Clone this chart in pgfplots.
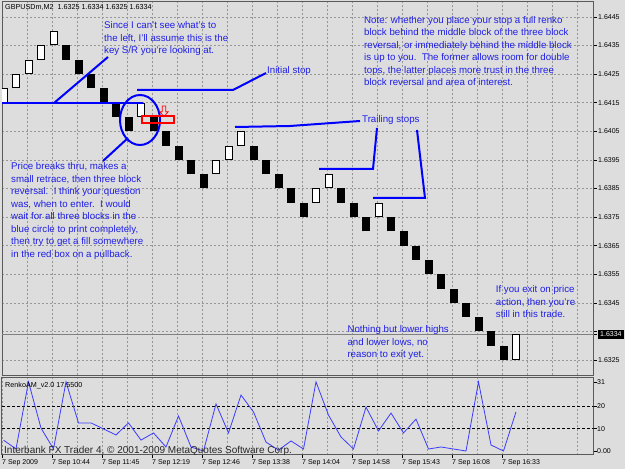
\documentclass[border=0pt]{standalone}
\usepackage{pgfplots}
\pgfplotsset{compat=1.18}
\usepackage{pgfplotstable}
\usepackage{fontspec}
\setmainfont{Liberation Sans}
\definecolor{bgc}{RGB}{221,221,221}
\definecolor{gridc}{RGB}{150,150,150}
\definecolor{framec}{RGB}{90,90,90}
\definecolor{annoblue}{RGB}{30,30,230}
\definecolor{lineblue}{RGB}{0,0,255}
\definecolor{indblue}{RGB}{60,60,255}

% black (down) renko blocks
\pgfplotstableread{
x lo hi
5 1.6430 1.6435
6 1.6425 1.6430
7 1.6420 1.6425
8 1.6415 1.6420
9 1.6410 1.6415
10 1.6405 1.6410
12 1.6405 1.6410
13 1.6400 1.6405
14 1.6395 1.6400
15 1.6390 1.6395
16 1.6385 1.6390
20 1.6395 1.6400
21 1.6390 1.6395
22 1.6385 1.6390
23 1.6380 1.6385
24 1.6375 1.6380
27 1.6380 1.6385
28 1.6375 1.6380
29 1.6370 1.6375
31 1.6370 1.6375
32 1.6365 1.6370
33 1.6360 1.6365
34 1.6355 1.6360
35 1.6350 1.6355
36 1.6345 1.6350
37 1.6340 1.6345
38 1.6335 1.6340
39 1.6330 1.6335
40 1.6325 1.6330
}\blackbars
% white (up) renko blocks
\pgfplotstableread{
x lo hi
0 1.6415 1.6420
1 1.6420 1.6425
2 1.6425 1.6430
3 1.6430 1.6435
4 1.6435 1.6440
11 1.6410 1.6415
17 1.6390 1.6395
18 1.6395 1.6400
19 1.6400 1.6405
25 1.6380 1.6385
26 1.6385 1.6390
30 1.6375 1.6380
41 1.6325 1.6334
}\whitebars
% RenkoAM indicator
\pgfplotstableread{
x v
0 4.9
1 0.9
2 31
3 10.3
4 0.9
5 31
6 12.6
7 12.6
8 9.9
9 7.2
10 12.6
11 4.9
12 8.1
13 1.8
14 15.7
15 1.8
16 0
17 21.1
18 8.1
19 25.1
20 17.5
21 4.0
22 0.4
23 4.5
24 0.9
25 31
26 16.1
27 6.3
28 0.9
29 19.7
30 9.0
31 17.0
32 8.1
33 14.3
34 0.9
35 1.8
36 0.9
37 0
38 31
39 2.7
40 0
41 17.55
}\renko

\begin{document}
\begin{tikzpicture}
\useasboundingbox (0,0) rectangle (625pt,469pt);
\fill[bgc] (0,0) rectangle (625pt,469pt);

\begin{axis}[
  at={(2pt,93.5pt)}, anchor=south west,
  scale only axis, width=591.5pt, height=373.5pt,
  xmin=-0.12, xmax=47.2, ymin=1.63196, ymax=1.64502,
  axis line style={draw=framec, line width=1pt},
  xtick={-0.12,1.88,...,46.5},
  xticklabels={},
  xmajorgrids, ymajorgrids,
  major grid style={draw=gridc, line width=0.5pt, dash pattern=on 2pt off 2pt},
  ytick={1.6325,1.6335,1.6345,1.6355,1.6365,1.6375,1.6385,1.6395,1.6405,1.6415,1.6425,1.6435,1.6445},
  yticklabels={1.6325,{},1.6345,1.6355,1.6365,1.6375,1.6385,1.6395,1.6405,1.6415,1.6425,1.6435,1.6445},
  ytick pos=right, yticklabel pos=right,
  tick align=outside,
  xtick style={draw=none},
  ytick style={draw=black, line width=0.5pt},
  major tick length=3pt,
  yticklabel style={font=\fontsize{7}{8}\selectfont, anchor=west, inner sep=0pt, xshift=1.5pt},
  scaled y ticks=false,
  extra y ticks={1.6334},
  extra y tick labels={1.6334},
  extra y tick style={grid=major, major grid style={draw=gray, solid, line width=0.6pt},
     yticklabel style={fill=black, text=white, inner xsep=2pt, inner ysep=2pt}},
]
\addplot[draw=none, mark=none, forget plot, error bars/.cd, y dir=plus, y explicit, error mark=none,
   error bar style={draw=black, line width=8pt}]
   table[x=x, y=lo, y error expr=\thisrow{hi}-\thisrow{lo}] {\blackbars};
\addplot[draw=none, mark=none, forget plot, error bars/.cd, y dir=plus, y explicit, error mark=none,
   error bar style={draw=black, line width=8pt}]
   table[x=x, y=lo, y error expr=\thisrow{hi}-\thisrow{lo}] {\whitebars};
\addplot[draw=none, mark=none, forget plot, error bars/.cd, y dir=plus, y explicit, error mark=none,
   error bar style={draw=white, line width=6pt, shorten <=1pt, shorten >=1pt}]
   table[x=x, y=lo, y error expr=\thisrow{hi}-\thisrow{lo}] {\whitebars};
\end{axis}

\begin{axis}[
  at={(2pt,14pt)}, anchor=south west,
  scale only axis, width=591.5pt, height=77.5pt,
  xmin=-0.12, xmax=47.2, ymin=-1.79, ymax=32.96,
  axis line style={draw=framec, line width=1pt},
  xtick={-0.12,3.88,...,40.5},
  xticklabels={7 Sep 2009,7 Sep 10:44,7 Sep 11:45,7 Sep 12:19,7 Sep 12:46,7 Sep 13:38,7 Sep 14:04,7 Sep 14:58,7 Sep 15:43,7 Sep 16:08,7 Sep 16:33},
  minor xtick={1.88,5.88,...,46.5},
  xmajorgrids, xminorgrids,
  major grid style={draw=gridc, line width=0.5pt, dash pattern=on 2pt off 2pt},
  minor grid style={draw=gridc, line width=0.5pt, dash pattern=on 2pt off 2pt},
  xtick pos=left, ytick pos=right, yticklabel pos=right,
  tick align=outside, major tick length=3pt, minor tick length=0pt,
  tick style={draw=black, line width=0.5pt},
  xticklabel style={font=\fontsize{7}{8}\selectfont, anchor=north west, inner sep=0pt, yshift=-1pt},
  ytick={0,10,20,31}, yticklabels={0.00,10,20,31},
  yticklabel style={font=\fontsize{7}{8}\selectfont, anchor=west, inner sep=0pt, xshift=0.5pt},
]
\draw[black, line width=0.6pt, dash pattern=on 3pt off 2pt] (axis cs:-0.12,20) -- (axis cs:47.2,20);
\draw[black, line width=0.6pt, dash pattern=on 3pt off 2pt] (axis cs:-0.12,10) -- (axis cs:47.2,10);
\addplot[indblue, line width=0.8pt, mark=none] table[x=x, y=v] {\renko};
\end{axis}

\begin{scope}[x=1pt, y=-1pt, shift={(0pt,469pt)},
  anno/.style={anchor=north west, inner sep=0pt, align=left, text=annoblue, font=\fontsize{9.7}{12.5}\selectfont},
  small/.style={anchor=north west, inner sep=0pt, text=black, font=\fontsize{7.2}{8}\selectfont}]
% blue annotation lines
\draw[lineblue, line width=2.4pt] (2,103) -- (143,103);
\draw[lineblue, line width=2pt] (54,103) -- (108,57);
\draw[lineblue, line width=2pt] (140,120) ellipse [x radius=20, y radius=25];
\draw[lineblue, line width=2pt] (103,161) -- (128,138);
\draw[lineblue, line width=2pt] (137,90) -- (233,90) -- (266,73);
\draw[lineblue, line width=2pt] (235,127) -- (290,126) -- (360,121);
\draw[lineblue, line width=2pt] (319,169) -- (373,169) -- (377,128);
\draw[lineblue, line width=2pt] (373,198) -- (425,198) -- (417,130);
% red box and arrow
\draw[red, line width=1.6pt] (142,116) rectangle (174,123);
\draw[red, line width=0.7pt] (162.3,106) -- (165.7,106) -- (165.7,111.7) -- (168.3,111.7) -- (164,116.5) -- (159.7,111.7) -- (162.3,111.7) -- cycle;
% texts
\node[small] at (5,4) {GBPUSDm,M2\ \ 1.6325 1.6334 1.6325 1.6334};
\node[anno] at (104,21.7) {Since I can't see what's to\\the left, I'll assume this is the\\key S/R you're looking at.};
\node[anno] at (267,66) {Initial stop};
\node[anno] at (364,16) {Note: whether you place your stop a full renko\\block behind the middle block of the three block\\reversal, or immediately behind the middle block\\is up to you.\ \ The former allows room for double\\tops, the latter places more trust in the three\\block reversal and area of interest.};
\node[anno] at (362,115) {Trailing stops};
\node[anno] at (11,162.7) {Price breaks thru, makes a\\small retrace, then three block\\reversal.\ \ I think your question\\was, when to enter.\ \ I would\\wait for all three blocks in the\\blue circle to print completely,\\then try to get a fill somewhere\\in the red box on a pullback.};
\node[anno] at (495.7,285.7) {If you exit on price\\action, then you're\\still in this trade.};
\node[anno] at (347.3,325.7) {Nothing but lower highs\\and lower lows, no\\reason to exit yet.};
\node[small] at (5,382.3) {RenkoAM\_v2.0 17.5500};
\node[anchor=north west, inner sep=0pt, text=black!85, font=\fontsize{10}{11}\selectfont] at (4,446.5) {Interbank FX Trader 4, © 2001-2009 MetaQuotes Software Corp.};
\end{scope}
\end{tikzpicture}
\end{document}
